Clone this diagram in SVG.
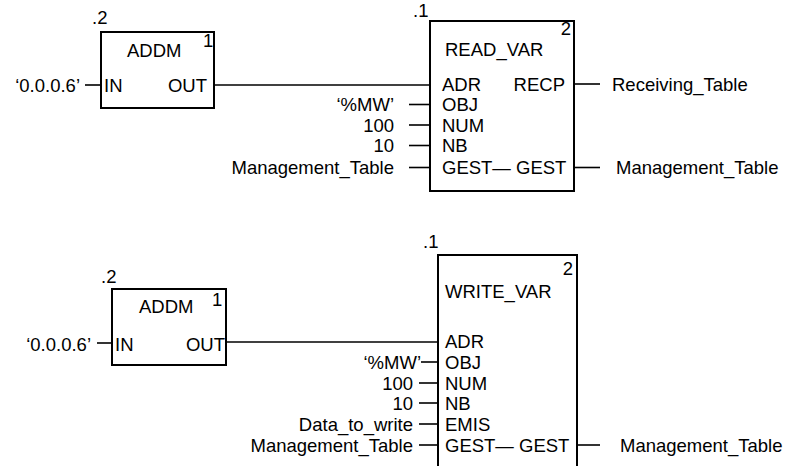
<svg xmlns="http://www.w3.org/2000/svg" width="787" height="466" viewBox="0 0 787 466">
<style>
.t{font-family:"Liberation Sans",Arial,Helvetica,sans-serif;font-size:18.5px;fill:#000}
.e{text-anchor:end}
.box{fill:none;stroke:#000;stroke-width:2}
.w{stroke:#000;stroke-width:1.6;fill:none}
</style>
<rect x="0" y="0" width="787" height="466" fill="#fff"/>
<g id="addm-top">
<rect class="box" x="101" y="32" width="113" height="76"/>
<text class="t" x="92" y="24">.2</text>
<text class="t" x="127" y="56.5">ADDM</text>
<text class="t" x="203" y="47">1</text>
<text class="t" x="104" y="91.5">IN</text>
<text class="t e" x="207" y="91.5">OUT</text>
</g>
<g id="read-var">
<rect class="box" x="430" y="21" width="144" height="170"/>
<text class="t" x="413" y="17">.1</text>
<text class="t e" x="571" y="35">2</text>
<text class="t" x="445" y="55.5">READ_VAR</text>
<text class="t" x="442" y="90.5">ADR</text>
<text class="t e" x="565" y="90.5">RECP</text>
<text class="t" x="442" y="111">OBJ</text>
<text class="t" x="442" y="131.5">NUM</text>
<text class="t" x="442" y="152">NB</text>
<text class="t" x="442" y="174">GEST— GEST</text>
</g>
<g id="labels-top">
<text class="t e" x="80" y="91.5">‘0.0.0.6’</text>
<text class="t e" x="394" y="111">‘%MW’</text>
<text class="t e" x="394" y="131.5">100</text>
<text class="t e" x="394" y="152">10</text>
<text class="t e" x="394" y="174">Management_Table</text>
<text class="t" x="612" y="90.5">Receiving_Table</text>
<text class="t" x="616" y="174">Management_Table</text>
</g>
<g id="addm-bottom">
<rect class="box" x="112" y="289" width="114" height="76"/>
<text class="t" x="101" y="283">.2</text>
<text class="t" x="139" y="312.5">ADDM</text>
<text class="t" x="212" y="306">1</text>
<text class="t" x="115" y="350.5">IN</text>
<text class="t e" x="225" y="350.5">OUT</text>
</g>
<g id="write-var">
<rect class="box" x="438" y="255" width="139" height="240"/>
<text class="t" x="423" y="248">.1</text>
<text class="t e" x="573" y="275">2</text>
<text class="t" x="445" y="297.5">WRITE_VAR</text>
<text class="t" x="445" y="347.5">ADR</text>
<text class="t" x="445" y="368.5">OBJ</text>
<text class="t" x="445" y="389.5">NUM</text>
<text class="t" x="445" y="409.5">NB</text>
<text class="t" x="445" y="430.5">EMIS</text>
<text class="t" x="445" y="451.5">GEST— GEST</text>
</g>
<g id="labels-bottom">
<text class="t e" x="91" y="350.5">‘0.0.0.6’</text>
<text class="t e" x="421" y="368.5">‘%MW’</text>
<text class="t e" x="413" y="389.5">100</text>
<text class="t e" x="413" y="409.5">10</text>
<text class="t e" x="413" y="430.5">Data_to_write</text>
<text class="t e" x="413" y="451.5">Management_Table</text>
<text class="t" x="620" y="451.5">Management_Table</text>
</g>
<g id="connectors">
<line class="w" x1="85" y1="85" x2="101" y2="85"/>
<line class="w" x1="214" y1="85" x2="430" y2="85"/>
<line class="w" x1="409" y1="104.5" x2="430" y2="104.5"/>
<line class="w" x1="409" y1="125" x2="430" y2="125"/>
<line class="w" x1="409" y1="145.5" x2="430" y2="145.5"/>
<line class="w" x1="409" y1="167.5" x2="430" y2="167.5"/>
<line class="w" x1="574" y1="84" x2="600" y2="84"/>
<line class="w" x1="574" y1="167.5" x2="600" y2="167.5"/>
<line class="w" x1="97" y1="343" x2="112" y2="343"/>
<line class="w" x1="226" y1="342" x2="438" y2="342"/>
<line class="w" x1="421" y1="362" x2="438" y2="362"/>
<line class="w" x1="419" y1="383" x2="438" y2="383"/>
<line class="w" x1="419" y1="403" x2="438" y2="403"/>
<line class="w" x1="419" y1="424" x2="438" y2="424"/>
<line class="w" x1="419" y1="445" x2="438" y2="445"/>
<line class="w" x1="577" y1="445" x2="600" y2="445"/>
</g>
</svg>
